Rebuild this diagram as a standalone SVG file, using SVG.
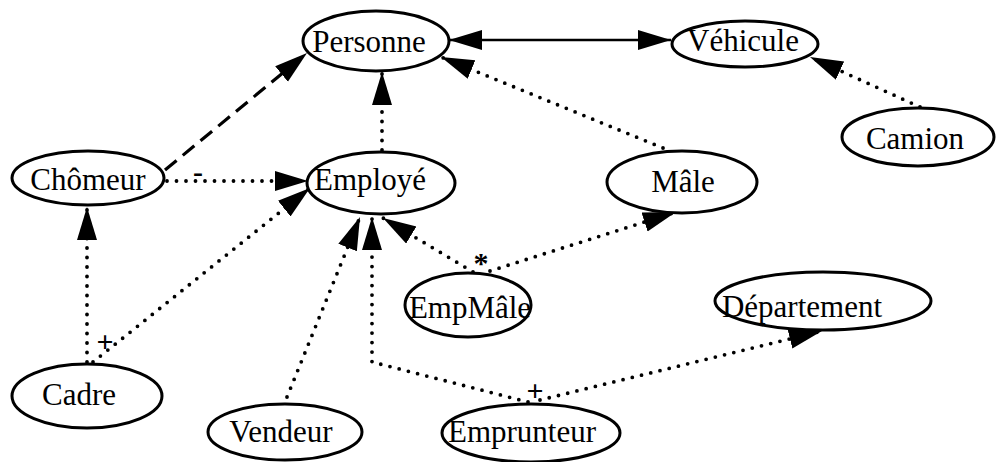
<svg xmlns="http://www.w3.org/2000/svg" width="997" height="462" viewBox="0 0 997 462">
<style>
.node ellipse{fill:#fff;stroke:#000;stroke-width:3}
.node text{font-family:"Liberation Serif","Times New Roman",serif;font-size:31px;text-anchor:middle;fill:#000}
.e{fill:none;stroke:#000}
.dot{stroke-width:3.8;stroke-dasharray:0 9.5;stroke-linecap:round}
.dash{stroke-width:3.2;stroke-dasharray:15 8}
.solid{stroke-width:2.5}
.lbl{font-family:"Liberation Serif","Times New Roman",serif;font-size:30px;text-anchor:middle;fill:#000;font-weight:bold}
</style>
<defs>
<marker id="ah" markerUnits="userSpaceOnUse" markerWidth="36" markerHeight="22" refX="33" refY="10" orient="auto-start-reverse" viewBox="0 0 36 22">
<path d="M0,0 L33,10 L0,20 z" fill="#000"/>
</marker>
</defs>
<rect width="997" height="462" fill="#fff"/>
<g id="connectors">
<line class="e solid" x1="449" y1="40" x2="671" y2="40" marker-start="url(#ah)" marker-end="url(#ah)"/>
<line class="e dash" x1="165" y1="170" x2="307" y2="53" marker-end="url(#ah)"/>
<line class="e dot" x1="382" y1="150" x2="382" y2="72" marker-end="url(#ah)"/>
<line class="e dot" x1="663" y1="148" x2="441" y2="57" marker-end="url(#ah)"/>
<line class="e dot" x1="920" y1="107" x2="810" y2="57" marker-end="url(#ah)"/>
<line class="e dot" x1="167" y1="181" x2="308" y2="181" marker-end="url(#ah)"/>
<line class="e dot" x1="87" y1="362" x2="87" y2="207" marker-end="url(#ah)"/>
<line class="e dot" x1="93" y1="362" x2="310" y2="188" marker-end="url(#ah)"/>
<line class="e dot" x1="287" y1="397" x2="360" y2="217" marker-end="url(#ah)"/>
<polyline class="e dot" points="528,402 372,362 372,217" marker-end="url(#ah)"/>
<line class="e dot" x1="540" y1="400" x2="822" y2="331" marker-end="url(#ah)"/>
<line class="e dot" x1="473" y1="272" x2="383" y2="218" marker-end="url(#ah)"/>
<line class="e dot" x1="490" y1="271" x2="676" y2="212" marker-end="url(#ah)"/>
<text class="lbl" x="198" y="182">-</text>
<text class="lbl" x="105" y="352">+</text>
<text class="lbl" x="481" y="273">*</text>
<text class="lbl" x="535" y="401">+</text>
</g>
<g id="Personne" class="node"><ellipse cx="376" cy="41" rx="73" ry="30"/><text x="369" y="52">Personne</text></g>
<g id="Vehicule" class="node"><ellipse cx="745" cy="44" rx="73" ry="23"/><text x="743" y="51">Véhicule</text></g>
<g id="Camion" class="node"><ellipse cx="918" cy="137" rx="76" ry="29"/><text x="915" y="149">Camion</text></g>
<g id="Male" class="node"><ellipse cx="682" cy="182" rx="75" ry="31"/><text x="683" y="192">Mâle</text></g>
<g id="Chomeur" class="node"><ellipse cx="88" cy="178" rx="76" ry="27"/><text x="88" y="190">Chômeur</text></g>
<g id="Employe" class="node"><ellipse cx="381" cy="183" rx="74" ry="31"/><text x="370" y="190">Employé</text></g>
<g id="Cadre" class="node"><ellipse cx="87" cy="396" rx="75" ry="32"/><text x="79" y="405">Cadre</text></g>
<g id="Vendeur" class="node"><ellipse cx="285" cy="432" rx="77" ry="28"/><text x="281" y="442">Vendeur</text></g>
<g id="EmpMale" class="node"><ellipse cx="468" cy="305" rx="63" ry="32"/><text x="470" y="318">EmpMâle</text></g>
<g id="Emprunteur" class="node"><ellipse cx="531" cy="433" rx="89" ry="29"/><text x="522" y="442">Emprunteur</text></g>
<g id="Departement" class="node"><ellipse cx="823" cy="301" rx="108" ry="29"/><text x="802" y="317">Département</text></g>
</svg>
